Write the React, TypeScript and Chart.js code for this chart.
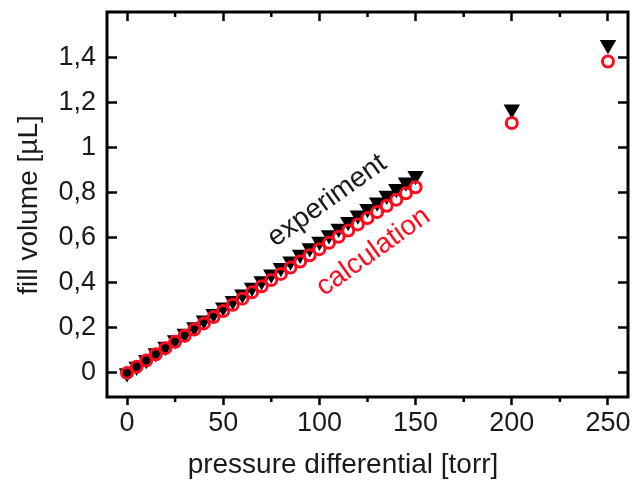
import React, { useEffect, useRef } from 'react';
import { Chart, registerables } from 'chart.js';

Chart.register(...registerables);

// Pressure differential steps [torr]
const pressure = [
  0, 5, 10, 15, 20, 25, 30, 35, 40, 45, 50, 55, 60, 65, 70, 75, 80, 85, 90, 95,
  100, 105, 110, 115, 120, 125, 130, 135, 140, 145, 150, 200, 250,
];

// Measured fill volume [µL]
const experiment = [
  0, 0.029, 0.058, 0.088, 0.117, 0.146, 0.175, 0.204, 0.234, 0.263, 0.292,
  0.321, 0.35, 0.38, 0.409, 0.438, 0.467, 0.496, 0.526, 0.555, 0.584,
  0.613, 0.642, 0.672, 0.701, 0.73, 0.759, 0.788, 0.818, 0.847, 0.876,
  1.172, 1.458,
];

// Calculated fill volume [µL]
const calculation = [
  0, 0.0275, 0.055, 0.083, 0.11, 0.138, 0.165, 0.193, 0.22, 0.248, 0.275,
  0.303, 0.33, 0.358, 0.385, 0.413, 0.44, 0.468, 0.495, 0.523, 0.55,
  0.578, 0.605, 0.633, 0.66, 0.688, 0.715, 0.743, 0.77, 0.798, 0.825,
  1.111, 1.384,
];

const xMajorTicks = [0, 50, 100, 150, 200, 250];
const xMinorTicks = [25, 75, 125, 175, 225];
const yTicks = [0, 0.2, 0.4, 0.6, 0.8, 1, 1.2, 1.4];
const yTickLabels = ['0', '0,2', '0,4', '0,6', '0,8', '1', '1,2', '1,4'];

const xTitle = 'pressure differential [torr]';
const yTitle = 'fill volume [µL]';
const seriesNames = ['experiment', 'calculation'];

const FONT = '"Liberation Sans", Arial, Helvetica, sans-serif';
const INK = '#1a1a1a';
const RED = '#ff0a1e';

const X_RANGE = { min: -10.4, max: 260.4 };
const Y_RANGE = { min: -0.107, max: 1.604 };

const majorX = (s: any) => {
  s.ticks = xMajorTicks.map((v) => ({ value: v }));
};
const majorY = (s: any) => {
  s.ticks = yTicks.map((v) => ({ value: v }));
};

// Fix an axis box to a given thickness and drop the label overhang padding
const fixBox = (size: number, horizontal: boolean) => (s: any) => {
  if (horizontal) s.height = size;
  else s.width = size;
  s.paddingTop = 0;
  s.paddingBottom = 0;
  s.paddingLeft = 0;
  s.paddingRight = 0;
};

// Plot frame and the short minor ticks on the top and bottom axes
const framePlugin = {
  id: 'plotFrame',
  afterDraw(chart: any) {
    const { ctx, chartArea: a } = chart;
    const xs = chart.scales.x;
    ctx.save();
    ctx.strokeStyle = '#000';
    ctx.lineWidth = 2.5;
    ctx.beginPath();
    xMinorTicks.forEach((v) => {
      const px = xs.getPixelForValue(v);
      ctx.moveTo(px, a.bottom);
      ctx.lineTo(px, a.bottom + 5);
      ctx.moveTo(px, a.top);
      ctx.lineTo(px, a.top + 5);
    });
    ctx.stroke();
    ctx.lineWidth = 3;
    ctx.strokeRect(a.left, a.top, a.right - a.left, a.bottom - a.top);
    ctx.restore();
  },
};

// Axis titles and the rotated series labels beside the data
const textPlugin = {
  id: 'figureText',
  afterDraw(chart: any) {
    const { ctx } = chart;
    const xs = chart.scales.x;
    const ys = chart.scales.y;
    ctx.save();
    ctx.textAlign = 'center';
    ctx.textBaseline = 'middle';
    ctx.fillStyle = INK;
    ctx.font = `28px ${FONT}`;
    ctx.fillText(xTitle, 343, 465);
    ctx.save();
    ctx.translate(29, 205);
    ctx.rotate(-Math.PI / 2);
    ctx.fillText(yTitle, 0, 0);
    ctx.restore();

    const angle = (-35.5 * Math.PI) / 180;
    ctx.font = `28px ${FONT}`;
    ctx.save();
    ctx.translate(xs.getPixelForValue(104), ys.getPixelForValue(0.765));
    ctx.rotate(angle);
    ctx.fillStyle = INK;
    ctx.fillText(seriesNames[0], 0, 0);
    ctx.restore();
    ctx.save();
    ctx.translate(xs.getPixelForValue(128), ys.getPixelForValue(0.538));
    ctx.rotate(angle);
    ctx.fillStyle = RED;
    ctx.fillText(seriesNames[1], 0, 0);
    ctx.restore();
    ctx.restore();
  },
};

export default function App() {
  const ref = useRef<HTMLCanvasElement | null>(null);

  useEffect(() => {
    document.body.style.margin = '0';
    const canvas = ref.current!;

    const noBorder = { display: false };
    const tickFont = { family: FONT, size: 27 };
    const tickGrid = (len: number) => ({
      drawOnChartArea: false,
      tickLength: len,
      tickWidth: 2.5,
      tickColor: '#000',
    });

    const chart = new Chart(canvas, {
      type: 'scatter',
      data: {
        datasets: [
          {
            label: seriesNames[1],
            data: pressure.map((p, i) => ({ x: p, y: calculation[i] })),
            pointStyle: 'circle',
            pointRadius: 5.5,
            pointBorderWidth: 3,
            pointBorderColor: RED,
            pointBackgroundColor: 'rgba(0,0,0,0)',
            showLine: false,
          },
          {
            label: seriesNames[0],
            data: pressure.map((p, i) => ({ x: p, y: experiment[i] })),
            pointStyle: 'triangle',
            pointRotation: 180,
            pointRadius: 9.5,
            pointBorderWidth: 0,
            pointBackgroundColor: '#000',
            pointBorderColor: '#000',
            showLine: false,
          },
        ],
      },
      options: {
        animation: false,
        responsive: false,
        devicePixelRatio: 1,
        layout: { padding: 0, autoPadding: false },
        plugins: { legend: { display: false }, tooltip: { enabled: false } },
        scales: {
          x: {
            type: 'linear',
            position: 'bottom',
            ...X_RANGE,
            afterBuildTicks: majorX,
            ticks: {
              autoSkip: false,
              maxRotation: 0,
              padding: 2,
              color: INK,
              font: tickFont,
              callback: (v: any) => String(v),
            },
            grid: tickGrid(8),
            border: noBorder,
            afterFit: fixBox(89, true),
          },
          x2: {
            type: 'linear',
            position: 'top',
            ...X_RANGE,
            afterBuildTicks: majorX,
            ticks: { display: false },
            grid: tickGrid(-9),
            border: noBorder,
            afterFit: fixBox(12, true),
          },
          y: {
            type: 'linear',
            position: 'left',
            ...Y_RANGE,
            afterBuildTicks: majorY,
            ticks: {
              autoSkip: false,
              padding: 21,
              color: INK,
              font: tickFont,
              callback: (_v: any, i: number) => yTickLabels[i],
            },
            grid: tickGrid(-10),
            border: noBorder,
            afterFit: fixBox(107, false),
          },
          y2: {
            type: 'linear',
            position: 'right',
            ...Y_RANGE,
            afterBuildTicks: majorY,
            ticks: { display: false },
            grid: tickGrid(-10),
            border: noBorder,
            afterFit: fixBox(5, false),
          },
        },
      },
      plugins: [framePlugin, textPlugin],
    } as any);

    return () => chart.destroy();
  }, []);

  return (
    <div style={{ width: 633, height: 486, background: '#fff' }}>
      <canvas ref={ref} width={633} height={486} />
    </div>
  );
}
